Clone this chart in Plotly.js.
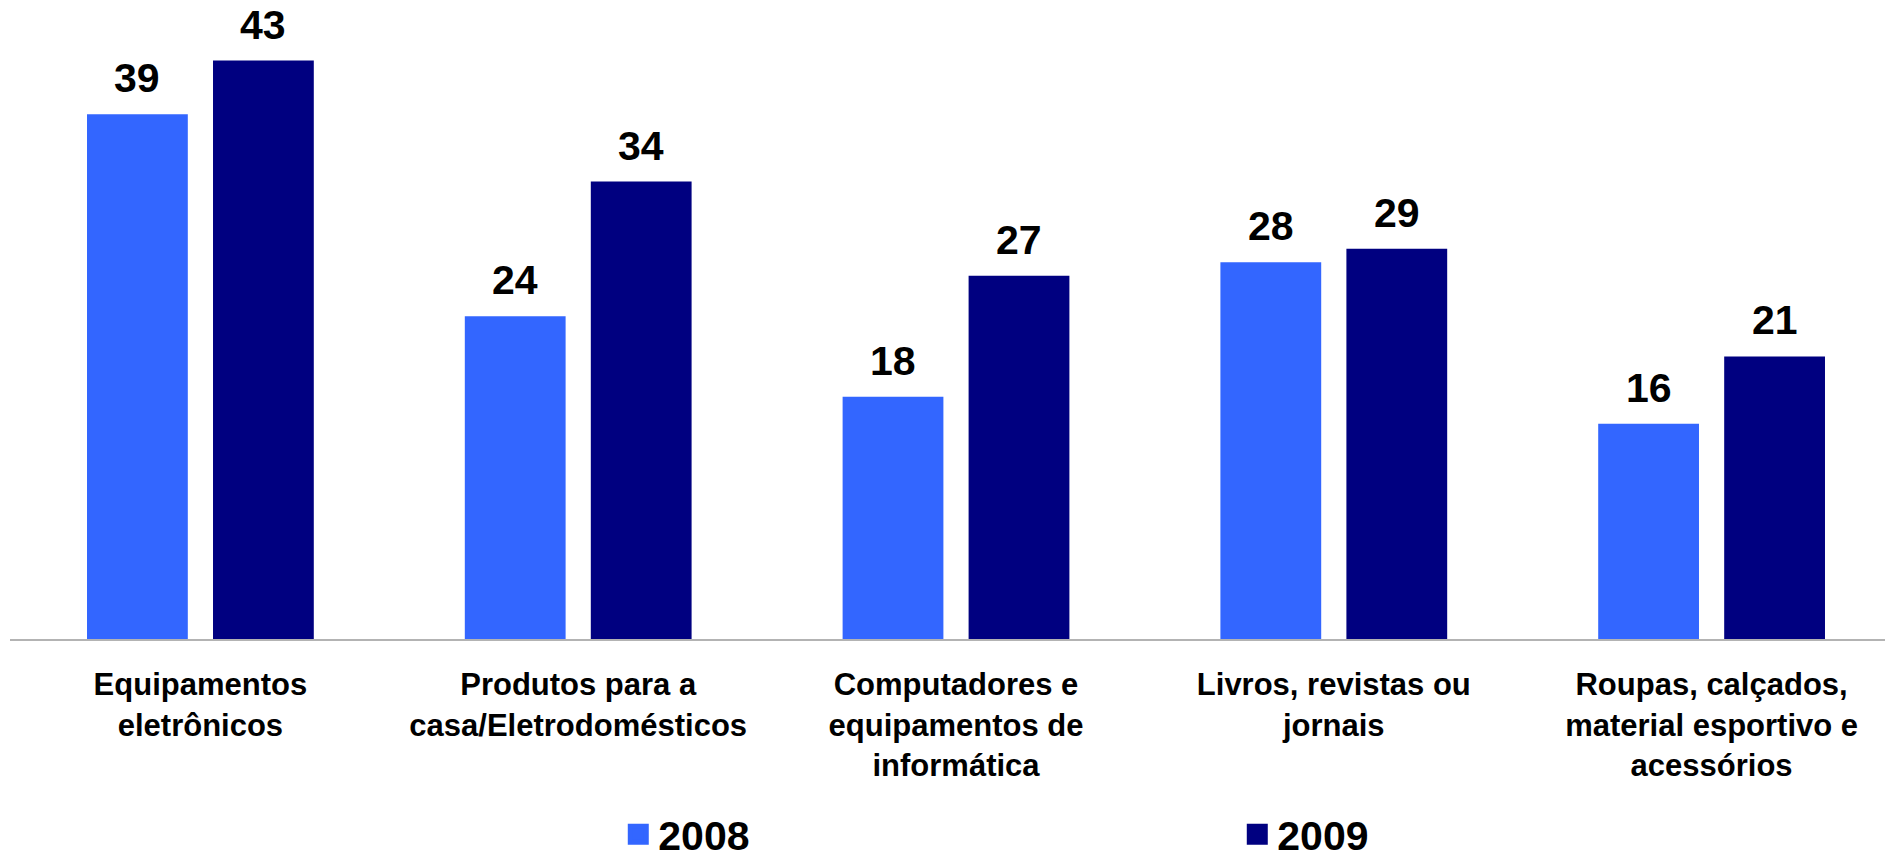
<!DOCTYPE html>
<html>
<head>
<meta charset="utf-8">
<script src="https://cdn.plot.ly/plotly-3.0.1.min.js"></script>
<style>
  html, body { margin: 0; padding: 0; background: #ffffff; }
  #chart { width: 1885px; height: 862px; }
</style>
</head>
<body>
<div id="chart"></div>
<script>
const categories = [
  "Equipamentos eletrônicos",
  "Produtos para a casa/Eletrodomésticos",
  "Computadores e equipamentos de informática",
  "Livros, revistas ou jornais",
  "Roupas, calçados, material esportivo e acessórios"
];
const tickLabels = [
  "Equipamentos<br>eletrônicos",
  "Produtos para a<br>casa/Eletrodomésticos",
  "Computadores e<br>equipamentos de<br>informática",
  "Livros, revistas ou<br>jornais",
  "Roupas, calçados,<br>material esportivo e<br>acessórios"
];
const seriesNames = ["2008", "2009"];
const values2008 = [39, 24, 18, 28, 16];
const values2009 = [43, 34, 27, 29, 21];

const colors = ["#3366FF", "#000080"];
const FONT = "Liberation Sans, Arial, Helvetica, sans-serif";
const series = [values2008, values2009];
const offsets = [-63, 63];

const traces = [];
series.forEach((vals, s) => {
  traces.push({
    type: "bar",
    name: seriesNames[s],
    x: categories,
    y: vals,
    marker: { color: colors[s], line: { width: 0 } },
    showlegend: false,
    hoverinfo: "x+y+name"
  });
});
// legend entries
series.forEach((vals, s) => {
  traces.push({
    type: "scatter",
    mode: "markers",
    name: seriesNames[s],
    x: [null],
    y: [null],
    marker: { symbol: "square", size: 22, color: colors[s], line: { width: 6, color: colors[s] } },
    showlegend: true,
    hoverinfo: "skip"
  });
});

const annotations = [];
series.forEach((vals, s) => {
  vals.forEach((v, i) => {
    annotations.push({
      x: categories[i],
      y: v,
      xref: "x",
      yref: "y",
      xshift: offsets[s],
      yshift: 11,
      yanchor: "bottom",
      showarrow: false,
      text: String(v),
      font: { family: FONT, size: 41, color: "#000000", weight: "bold" }
    });
  });
});

const layout = {
  width: 1885,
  height: 862,
  margin: { l: 10, r: 0, t: 0, b: 223, autoexpand: false },
  paper_bgcolor: "#ffffff",
  plot_bgcolor: "#ffffff",
  barmode: "group",
  bargap: 0.333,
  bargroupgap: 0.2,
  xaxis: {
    type: "category",
    range: [-0.504, 4.459],
    tickvals: categories,
    ticktext: tickLabels,
    showline: true,
    linecolor: "#b3b3b3",
    linewidth: 2,
    ticks: "",
    ticklabelstandoff: 17,
    showgrid: false,
    zeroline: false,
    tickfont: { family: FONT, size: 31, color: "#000000", weight: "bold" }
  },
  yaxis: {
    range: [0, 47.5],
    showgrid: false,
    zeroline: false,
    showline: false,
    showticklabels: false,
    ticks: ""
  },
  showlegend: true,
  legend: {
    orientation: "h",
    xref: "container",
    x: 0.328,
    xanchor: "left",
    y: -0.306,
    yanchor: "middle",
    entrywidth: 574,
    entrywidthmode: "pixels",
    font: { family: FONT, size: 41, color: "#000000", weight: "bold" },
    bgcolor: "rgba(0,0,0,0)",
    borderwidth: 0
  },
  annotations: annotations,
  font: { family: FONT }
};

Plotly.newPlot("chart", traces, layout, { displayModeBar: false, responsive: false });
</script>
</body>
</html>
